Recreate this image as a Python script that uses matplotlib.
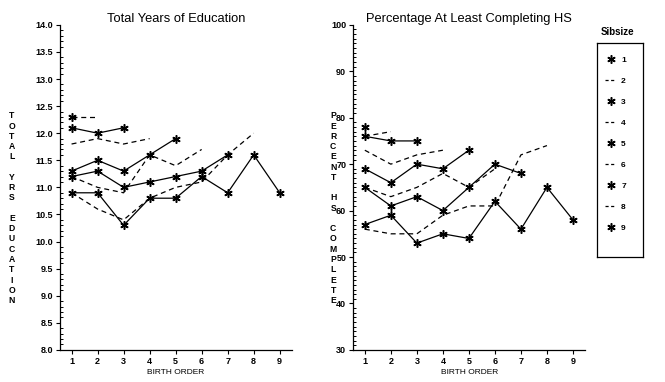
import matplotlib
matplotlib.use("Agg")
import matplotlib.pyplot as plt
from matplotlib.lines import Line2D
from matplotlib.ticker import MultipleLocator

plt.rcParams['font.family'] = ['Liberation Sans', 'DejaVu Sans']

# birth order positions for each sibship size
birth_order = list(range(1, 10))
sibsizes = [1, 2, 3, 4, 5, 6, 7, 8, 9]

# total years of education by sibsize (index = sibsize - 1)
educ_years = [
    [12.3],
    [12.3, 12.3],
    [12.1, 12.0, 12.1],
    [11.8, 11.9, 11.8, 11.9],
    [11.3, 11.5, 11.3, 11.6, 11.9],
    [11.2, 11.0, 10.9, 11.6, 11.4, 11.7],
    [11.2, 11.3, 11.0, 11.1, 11.2, 11.3, 11.6],
    [10.9, 10.6, 10.4, 10.8, 11.0, 11.1, 11.6, 12.0],
    [10.9, 10.9, 10.3, 10.8, 10.8, 11.2, 10.9, 11.6, 10.9],
]

# percent at least completing high school by sibsize
pct_hs = [
    [78],
    [76, 77],
    [76, 75, 75],
    [73, 70, 72, 73],
    [69, 66, 70, 69, 73],
    [65, 63, 65, 68, 65, 69],
    [65, 61, 63, 60, 65, 70, 68],
    [56, 55, 55, 59, 61, 61, 72, 74],
    [57, 59, 53, 55, 54, 62, 56, 65, 58],
]

star = (6, 2, 0)


def style(size):
    # odd sibsizes: solid line with stars, even: dashed line, no marker
    if size % 2 == 1:
        return dict(color='black', lw=0.9, linestyle='-', marker=star,
                    markersize=6, markeredgewidth=1.1)
    return dict(color='black', lw=0.9, linestyle=(0, (4, 3)), marker=None)


def draw_panel(ax, data, title, ylim, major, minor, fmt):
    for size, vals in zip(sibsizes, data):
        ax.plot(birth_order[:len(vals)], vals, **style(size))
    ax.set_xlim(0.55, 9.47)
    ax.set_ylim(*ylim)
    ax.set_xticks(birth_order)
    ax.yaxis.set_major_locator(MultipleLocator(major))
    ax.yaxis.set_minor_locator(MultipleLocator(minor))
    ax.set_yticklabels([fmt.format(v) for v in ax.get_yticks()])
    for s in ['top', 'right']:
        ax.spines[s].set_visible(False)
    for s in ['left', 'bottom']:
        ax.spines[s].set_linewidth(0.9)
    ax.tick_params(axis='both', which='major', direction='out', length=3,
                   width=0.8, labelsize=6.5, pad=2)
    ax.tick_params(axis='y', which='minor', direction='in', length=2.5, width=0.7)
    for lab in ax.get_xticklabels() + ax.get_yticklabels():
        lab.set_fontweight('bold')
    ax.set_title(title, fontsize=9.3, pad=0.5)
    ax.set_xlabel('BIRTH ORDER', fontsize=6, labelpad=2)
    return ax


fig = plt.figure(figsize=(6.65, 3.82), dpi=100)
ax1 = fig.add_axes([0.090, 0.084, 0.349, 0.851])
ax2 = fig.add_axes([0.531, 0.084, 0.349, 0.851])

draw_panel(ax1, educ_years, 'Total Years of Education', (8, 14), 0.5, 0.1, '{:.1f}')
draw_panel(ax2, pct_hs, 'Percentage At Least Completing HS', (30, 100), 10, 1, '{:.0f}')

# stacked vertical axis labels
fig.text(0.018, 0.455, '\n'.join('TOTAL YRS EDUCATION'), fontsize=6.2,
         fontweight='bold', ha='center', va='center', linespacing=1.18)
fig.text(0.501, 0.455, '\n'.join('PERCENT HS COMPLETE'), fontsize=6.2,
         fontweight='bold', ha='center', va='center', linespacing=1.18)

# legend box
lax = fig.add_axes([0.898, 0.327, 0.069, 0.560])
lax.set_xticks([])
lax.set_yticks([])
for s in lax.spines.values():
    s.set_linewidth(0.9)
handles = []
for size in sibsizes:
    if size % 2 == 1:
        handles.append(Line2D([], [], color='black', linestyle='none', marker=star,
                              markersize=6, markeredgewidth=1.1))
    else:
        handles.append(Line2D([], [], color='black', lw=0.9, linestyle=(0, (2.5, 2))))
lax.legend(handles, [str(s) for s in sibsizes], loc='upper left', frameon=False,
           prop={'weight': 'bold', 'size': 6}, handlelength=1.3,
           handletextpad=0.6, labelspacing=1.58, borderaxespad=0.3,
           bbox_to_anchor=(0.05, 0.965))
fig.text(0.929, 0.915, 'Sibsize', fontsize=7, fontweight='bold', ha='center',
         va='center')

fig.savefig('out.png', dpi=100)
